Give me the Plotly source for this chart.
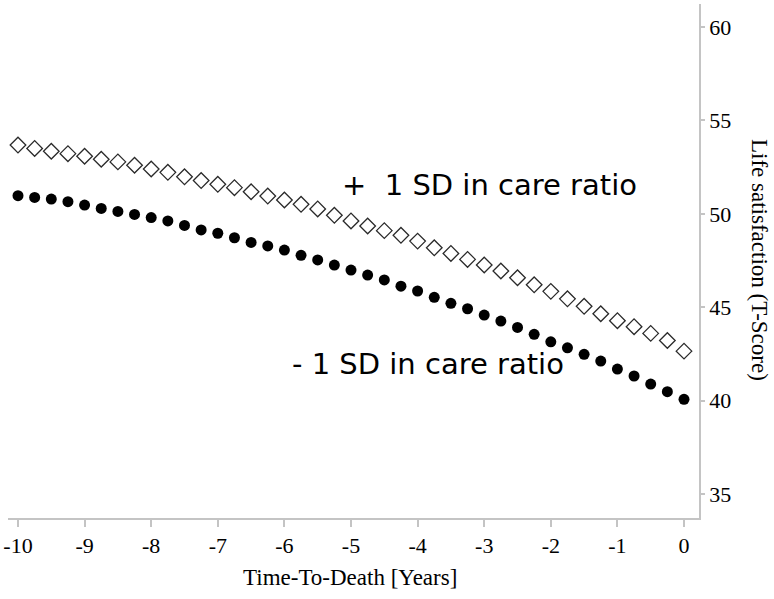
import plotly.graph_objects as go

years = [-10 + 0.25 * i for i in range(41)]

plus_sd = [53.68, 53.50, 53.35, 53.22, 53.08, 52.92, 52.78, 52.60, 52.40, 52.22,
           51.98, 51.78, 51.58, 51.40, 51.18, 50.95, 50.74, 50.51, 50.26, 49.92,
           49.62, 49.35, 49.10, 48.85, 48.54, 48.18, 47.88, 47.56, 47.26, 46.94,
           46.58, 46.20, 45.85, 45.45, 45.05, 44.65, 44.28, 43.96, 43.60, 43.22,
           42.65]

minus_sd = [50.97, 50.88, 50.79, 50.65, 50.47, 50.29, 50.13, 49.97, 49.80, 49.62,
            49.38, 49.14, 48.96, 48.72, 48.47, 48.28, 48.06, 47.78, 47.53, 47.26,
            46.99, 46.72, 46.46, 46.13, 45.87, 45.53, 45.21, 44.92, 44.58, 44.26,
            43.92, 43.55, 43.15, 42.83, 42.48, 42.12, 41.69, 41.32, 40.89, 40.48,
            40.07]

x_ticks = [-10, -9, -8, -7, -6, -5, -4, -3, -2, -1, 0]
y_ticks = [35, 40, 45, 50, 55, 60]

label_plus = "+\u00a0 1 SD in care ratio"
label_minus = "- 1 SD in care ratio"
x_title = "Time-To-Death [Years]"
y_title = "Life satisfaction (T-Score)"

fig = go.Figure()
fig.add_trace(go.Scatter(
    x=years, y=plus_sd, mode="markers", name="+1 SD",
    marker=dict(symbol="diamond-open", size=12, color="#2a2a2a",
                line=dict(width=1.3, color="#2a2a2a")),
))
fig.add_trace(go.Scatter(
    x=years, y=minus_sd, mode="markers", name="-1 SD",
    marker=dict(symbol="circle", size=11, color="#000000"),
))

axis_color = "#c4c4c4"
fig.update_xaxes(
    range=[-10.15, 0.225], tickvals=x_ticks, ticktext=[str(v) for v in x_ticks],
    showline=True, linecolor=axis_color, linewidth=1.5,
    ticks="outside", ticklen=7, tickcolor=axis_color, tickwidth=1.5,
    showgrid=False, zeroline=False, automargin=False,
    tickfont=dict(family="Liberation Serif", size=22, color="#000"),
)
fig.update_yaxes(
    range=[33.72, 61.23], tickvals=y_ticks, side="right",
    showline=True, linecolor=axis_color, linewidth=1.5,
    ticks="outside", ticklen=4, tickcolor=axis_color, tickwidth=1.5,
    showgrid=False, zeroline=False, automargin=False,
    tickfont=dict(family="Liberation Serif", size=22, color="#000"),
)

W, H = 774, 599
L, R, T, B = 8, 75, 4, 81
pw, ph = W - L - R, H - T - B

def px_to_paper(px, py):
    return (px - L) / pw, (H - B - py) / ph

ax, ay = px_to_paper(489, 185)
fig.add_annotation(x=ax, y=ay, xref="paper", yref="paper", text=label_plus,
                   showarrow=False, xanchor="center", yanchor="middle",
                   font=dict(family="DejaVu Sans", size=29, color="#000"))
ax, ay = px_to_paper(428, 364)
fig.add_annotation(x=ax, y=ay, xref="paper", yref="paper", text=label_minus,
                   showarrow=False, xanchor="center", yanchor="middle",
                   font=dict(family="DejaVu Sans", size=29, color="#000"))
ax, ay = px_to_paper(350, 577)
fig.add_annotation(x=ax, y=ay, xref="paper", yref="paper", text=x_title,
                   showarrow=False, xanchor="center", yanchor="middle",
                   font=dict(family="Liberation Serif", size=23, color="#000"))
ax, ay = px_to_paper(760, 260)
fig.add_annotation(x=ax, y=ay, xref="paper", yref="paper", text=y_title,
                   showarrow=False, xanchor="center", yanchor="middle", textangle=90,
                   font=dict(family="Liberation Serif", size=23, color="#000"))

fig.update_layout(
    width=W, height=H, margin=dict(l=L, r=R, t=T, b=B),
    paper_bgcolor="white", plot_bgcolor="white", showlegend=False,
)

fig.write_html("out.html", config={"displayModeBar": False},
               post_script="document.body.style.margin='0';document.body.style.overflow='hidden';")
